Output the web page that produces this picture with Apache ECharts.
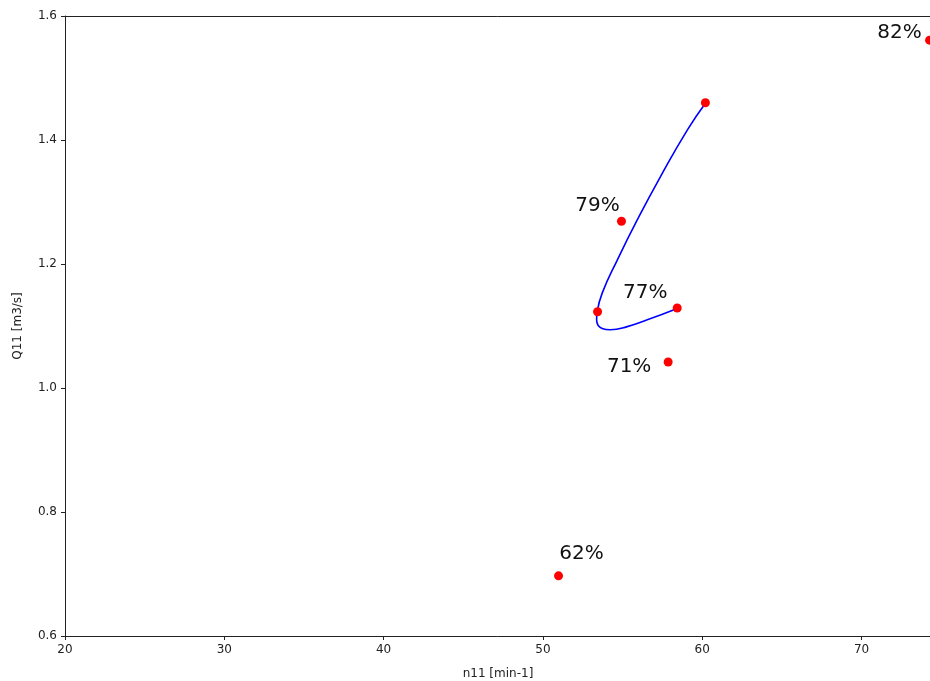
<!DOCTYPE html>
<html>
<head>
<meta charset="utf-8">
<script src="https://cdn.jsdelivr.net/npm/echarts@6/dist/echarts.min.js"></script>
<style>
  html, body { margin: 0; padding: 0; background: #fff; }
  #chart { width: 930px; height: 681px; }
</style>
</head>
<body>
<div id="chart"></div>
<script>
// measured points (n11, Q11) and efficiency labels
var pointN = [74.27, 60.2, 54.93, 53.43, 58.43, 57.86, 50.98];
var pointQ = [1.561, 1.46, 1.269, 1.123, 1.129, 1.042, 0.697];
var pointLabels = ['82%', '', '79%', '', '77%', '71%', '62%'];

// blue curve
var curveN = [60.19, 59.06, 57.38, 55.92, 54.66, 53.72, 53.41, 53.37, 53.72, 54.24, 55.29, 56.55, 58.39];
var curveQ = [1.459, 1.416, 1.341, 1.271, 1.206, 1.153, 1.123, 1.110, 1.096, 1.094, 1.099, 1.110, 1.128];

var xTicks = [20, 30, 40, 50, 60, 70];

// where each label sits relative to its dot (px)
var labelOffset = {
  '82%': [-30, -7],
  '79%': [-24, -15],
  '77%': [-32, -15],
  '71%': [-39, 5],
  '62%': [23, -22]
};

var font = 'DejaVu Sans';

var pts = pointN.map(function (n, i) {
  var lab = pointLabels[i];
  var d = { value: [n, pointQ[i]] };
  if (lab) {
    d.label = {
      show: true, formatter: lab, position: 'inside', offset: labelOffset[lab],
      fontSize: 20, color: '#111', textBorderWidth: 0, fontFamily: font
    };
  }
  return d;
});
var curve = curveN.map(function (n, i) { return [n, curveQ[i]]; });

var axisStyle = {
  axisLine: { show: true, lineStyle: { color: '#222', width: 1 } },
  axisTick: { show: true, inside: false, length: 4, lineStyle: { color: '#222' } },
  splitLine: { show: false }
};

var chart = echarts.init(document.getElementById('chart'));
chart.setOption({
  animation: false,
  backgroundColor: '#fff',
  grid: { left: 65, right: -1, top: 16, bottom: 45, outerBoundsMode: 'none' },
  xAxis: [
    Object.assign({
      type: 'value', min: 20, max: 74.36, interval: 10,
      name: 'n11 [min-1]', nameLocation: 'middle', nameGap: 32,
      nameTextStyle: { fontSize: 12, color: '#222', fontFamily: font },
      axisLabel: {
        fontSize: 12, color: '#222', fontFamily: font, margin: 8, showMaxLabel: false,
        formatter: function (v) { return xTicks.indexOf(v) >= 0 ? v : ''; }
      }
    }, axisStyle),
    {
      // top spine
      type: 'value', position: 'top', min: 20, max: 74.36,
      axisLine: { show: true, lineStyle: { color: '#222', width: 1 } },
      axisTick: { show: false }, axisLabel: { show: false }, splitLine: { show: false }
    }
  ],
  yAxis: Object.assign({
    type: 'value', min: 0.6, max: 1.6, interval: 0.2,
    name: 'Q11 [m3/s]', nameLocation: 'middle', nameGap: 41,
    nameTextStyle: { fontSize: 12, color: '#222', fontFamily: font },
    axisLabel: {
      fontSize: 12, color: '#222', fontFamily: font, margin: 8,
      formatter: function (v) { return v.toFixed(1); }
    }
  }, axisStyle),
  series: [
    { type: 'line', data: curve, smooth: 0.5, symbol: 'none', lineStyle: { color: '#0000ff', width: 1.6 }, z: 2 },
    { type: 'scatter', data: pts, symbol: 'circle', symbolSize: 9, itemStyle: { color: '#ff0000', opacity: 1 }, clip: false, z: 3 }
  ]
});
</script>
</body>
</html>
